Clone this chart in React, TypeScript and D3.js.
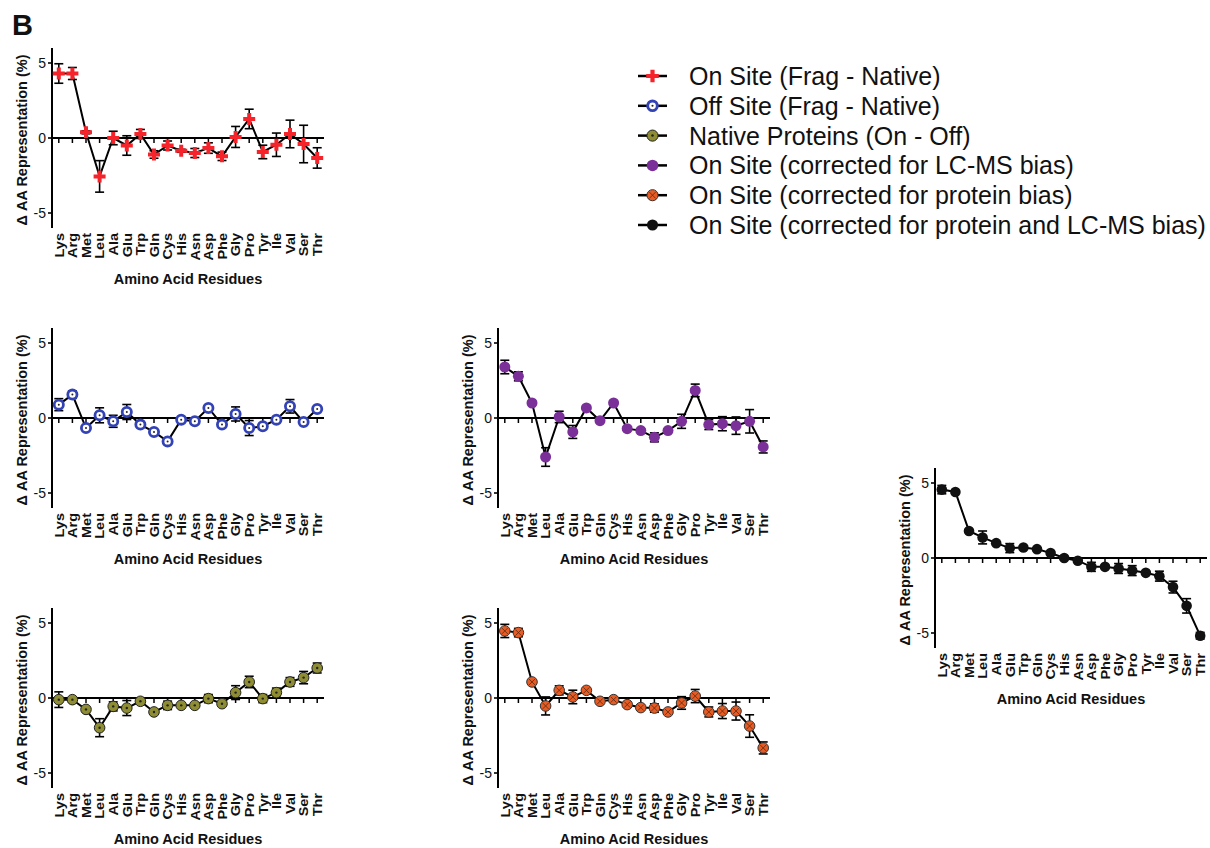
import React from "react";
import * as d3 from "d3";

const categories = ["Lys","Arg","Met","Leu","Ala","Glu","Trp","Gln","Cys","His","Asn","Asp","Phe","Gly","Pro","Tyr","Ile","Val","Ser","Thr"];

const yTicks = [5, 0, -5];

// On Site (Frag - Native)
const onFragValues = [4.3, 4.3, 0.38, -2.56, 0.0, -0.5, 0.27, -1.1, -0.5, -0.85, -1.0, -0.67, -1.22, 0.07, 1.27, -0.93, -0.45, 0.27, -0.4, -1.33];
const onFragErrors = [0.65, 0.4, 0.1, 1.05, 0.45, 0.65, 0.3, 0.25, 0.3, 0.1, 0.3, 0.35, 0.28, 0.7, 0.65, 0.45, 0.78, 0.92, 1.25, 0.68];

// Off Site (Frag - Native)
const offFragValues = [0.89, 1.56, -0.67, 0.18, -0.22, 0.4, -0.44, -0.93, -1.56, -0.11, -0.22, 0.67, -0.44, 0.27, -0.67, -0.55, -0.11, 0.78, -0.27, 0.6];
const offFragErrors = [0.4, 0.25, 0.15, 0.5, 0.4, 0.5, 0.1, 0.1, 0.1, 0.1, 0.1, 0.2, 0.1, 0.47, 0.5, 0.1, 0.1, 0.45, 0.1, 0.15];

// Native Proteins (On - Off)
const nativeValues = [-0.11, -0.11, -0.76, -1.98, -0.56, -0.67, -0.22, -0.93, -0.49, -0.49, -0.49, -0.04, -0.38, 0.36, 1.07, -0.04, 0.36, 1.07, 1.36, 2.0];
const nativeErrors = [0.52, 0.1, 0.1, 0.6, 0.3, 0.5, 0.1, 0.1, 0.28, 0.1, 0.1, 0.27, 0.1, 0.46, 0.38, 0.27, 0.3, 0.29, 0.41, 0.33];

// On Site (corrected for LC-MS bias)
const lcmsValues = [3.4, 2.78, 1.0, -2.6, 0.07, -0.93, 0.67, -0.18, 1.0, -0.71, -0.84, -1.29, -0.84, -0.22, 1.84, -0.44, -0.38, -0.51, -0.22, -1.93];
const lcmsErrors = [0.45, 0.3, 0.1, 0.62, 0.38, 0.43, 0.1, 0.1, 0.1, 0.1, 0.1, 0.3, 0.1, 0.47, 0.42, 0.33, 0.47, 0.58, 0.78, 0.4];

// On Site (corrected for protein bias)
const proteinValues = [4.47, 4.36, 1.07, -0.53, 0.51, 0.07, 0.51, -0.22, -0.11, -0.44, -0.64, -0.67, -0.93, -0.33, 0.13, -0.93, -0.87, -0.87, -1.87, -3.33];
const proteinErrors = [0.44, 0.28, 0.1, 0.6, 0.3, 0.45, 0.1, 0.1, 0.1, 0.1, 0.1, 0.28, 0.1, 0.42, 0.44, 0.33, 0.5, 0.6, 0.75, 0.4];

// On Site (corrected for protein and LC-MS bias)
const bothValues = [4.56, 4.4, 1.8, 1.37, 0.99, 0.66, 0.7, 0.59, 0.33, 0.0, -0.18, -0.59, -0.59, -0.7, -0.84, -0.99, -1.21, -1.94, -3.19, -5.18];
const bothErrors = [0.28, 0.1, 0.1, 0.43, 0.1, 0.3, 0.1, 0.1, 0.1, 0.1, 0.1, 0.3, 0.1, 0.33, 0.33, 0.1, 0.33, 0.39, 0.48, 0.22];

const legendLabels = [
  "On Site (Frag - Native)",
  "Off Site (Frag - Native)",
  "Native Proteins (On - Off)",
  "On Site (corrected for LC-MS bias)",
  "On Site (corrected for protein bias)",
  "On Site (corrected for protein and LC-MS bias)",
];

const FONT = "'Liberation Sans', Arial, Helvetica, sans-serif";

type MarkerKind = "cross" | "ring" | "olive" | "purple" | "orange" | "black";

const COLORS = {
  red: "#f5232a",
  blue: "#3343b5",
  olive: "#8e8d33",
  purple: "#7a2f99",
  orange: "#e65c24",
  black: "#111",
};

function Marker({ kind, x, y, s = 1 }: { kind: MarkerKind; x: number; y: number; s?: number }) {
  if (kind === "cross") {
    const p = d3.symbol().type(d3.symbolCross).size(80 * s * s)();
    return <path d={p || ""} transform={`translate(${x},${y})`} fill={COLORS.red} />;
  }
  if (kind === "ring") {
    return (
      <g transform={`translate(${x},${y})`}>
        <circle r={4.6 * s} fill="#fff" stroke={COLORS.blue} strokeWidth={2.8 * s} />
        <circle r={1 * s} fill="#222" />
      </g>
    );
  }
  if (kind === "olive") {
    return (
      <g transform={`translate(${x},${y})`}>
        <circle r={5.3 * s} fill={COLORS.olive} stroke="#222" strokeWidth={1} />
        <circle r={1.2 * s} fill="#222" />
      </g>
    );
  }
  if (kind === "purple") {
    return <circle cx={x} cy={y} r={5.5 * s} fill={COLORS.purple} />;
  }
  if (kind === "orange") {
    const a = 3 * s;
    return (
      <g transform={`translate(${x},${y})`}>
        <circle r={5.3 * s} fill={COLORS.orange} stroke="#333" strokeWidth={1} />
        <path d={`M${-a},${-a}L${a},${a}M${-a},${a}L${a},${-a}`} stroke="#5a2a10" strokeWidth={0.8} />
      </g>
    );
  }
  return <circle cx={x} cy={y} r={5.3 * s} fill={COLORS.black} />;
}

type PanelDef = {
  values: number[];
  errors: number[];
  kind: MarkerKind;
  ax: number; // axis x
  zy: number; // zero y
};

const W = 272;
const HALF = 90;

function Panel({ values, errors, kind, ax, zy }: PanelDef) {
  const x = d3.scaleBand<string>().domain(categories).range([ax, ax + W]).padding(0);
  const cx = (c: string) => (x(c) as number) + x.bandwidth() / 2;
  const y = d3.scaleLinear().domain([-6, 6]).range([zy + HALF, zy - HALF]);
  const line = d3
    .line<number>()
    .x((_, i) => cx(categories[i]))
    .y((v) => y(v));
  return (
    <g>
      {/* y axis */}
      <line x1={ax} x2={ax} y1={y(6)} y2={y(-6)} stroke="#000" strokeWidth={2} />
      {yTicks.map((t) => (
        <g key={t}>
          <line x1={ax - 4} x2={ax} y1={y(t)} y2={y(t)} stroke="#000" strokeWidth={1.6} />
          <text x={ax - 6} y={y(t)} dy="0.36em" textAnchor="end" fontSize={14} fontFamily={FONT} fill="#111">
            {t}
          </text>
        </g>
      ))}
      {/* x axis at zero */}
      <line x1={ax} x2={ax + W} y1={y(0)} y2={y(0)} stroke="#000" strokeWidth={2} />
      {categories.map((c) => (
        <line key={c} x1={cx(c)} x2={cx(c)} y1={y(0)} y2={y(0) + 5} stroke="#000" strokeWidth={1.5} />
      ))}
      {categories.map((c) => (
        <text
          key={"l" + c}
          transform={`translate(${cx(c)},${zy + HALF + 5}) rotate(-90) scale(1,0.92)`}
          dy="0.36em"
          textAnchor="end"
          fontSize={14.5}
          fontWeight="bold"
          fontFamily={FONT}
          fill="#111"
        >
          {c}
        </text>
      ))}
      <text
        x={ax + W / 2}
        y={zy + 146}
        textAnchor="middle"
        fontSize={14.5}
        fontWeight="bold"
        fontFamily={FONT}
        fill="#111"
      >
        Amino Acid Residues
      </text>
      <text
        transform={`translate(${ax - 25},${zy + 2}) rotate(-90)`}
        textAnchor="middle"
        fontSize={14.5}
        fontWeight="bold"
        fontFamily={FONT}
        fill="#111"
      >
        Δ AA Representation (%)
      </text>
      {/* line */}
      <path d={line(values) || ""} fill="none" stroke="#000" strokeWidth={2} />
      {/* error bars */}
      {values.map((v, i) => {
        const px = cx(categories[i]);
        const e = errors[i];
        return (
          <g key={"e" + i} stroke="#000" strokeWidth={1.6}>
            <line x1={px} x2={px} y1={y(v + e)} y2={y(v - e)} />
            <line x1={px - 4.5} x2={px + 4.5} y1={y(v + e)} y2={y(v + e)} />
            <line x1={px - 4.5} x2={px + 4.5} y1={y(v - e)} y2={y(v - e)} />
          </g>
        );
      })}
      {values.map((v, i) => (
        <Marker key={"m" + i} kind={kind} x={cx(categories[i])} y={y(v)} />
      ))}
    </g>
  );
}

const panels: PanelDef[] = [
  { values: onFragValues, errors: onFragErrors, kind: "cross", ax: 52, zy: 138 },
  { values: offFragValues, errors: offFragErrors, kind: "ring", ax: 52, zy: 418 },
  { values: lcmsValues, errors: lcmsErrors, kind: "purple", ax: 498, zy: 418 },
  { values: nativeValues, errors: nativeErrors, kind: "olive", ax: 52, zy: 698 },
  { values: proteinValues, errors: proteinErrors, kind: "orange", ax: 498, zy: 698 },
  { values: bothValues, errors: bothErrors, kind: "black", ax: 935, zy: 558 },
];

const legendKinds: MarkerKind[] = ["cross", "ring", "olive", "purple", "orange", "black"];

export default function App() {
  return (
    <svg
      width={1210}
      height={848}
      style={{ position: "absolute", left: 0, top: 0, background: "#fff" }}
    >
      <rect width={1210} height={848} fill="#fff" />
      <text x={12} y={35} fontSize={29} fontWeight="bold" fontFamily={FONT} fill="#111">
        B
      </text>
      {panels.map((p, i) => (
        <Panel key={i} {...p} />
      ))}
      <g>
        {legendLabels.map((l, i) => {
          const ly = 76 + i * 29.8;
          return (
            <g key={l}>
              <line x1={638} x2={667} y1={ly} y2={ly} stroke="#000" strokeWidth={2.5} />
              <Marker kind={legendKinds[i]} x={652.5} y={ly} s={1.05} />
              <text x={689} y={ly} dy="0.36em" fontSize={25} fontFamily={FONT} fill="#111">
                {l}
              </text>
            </g>
          );
        })}
      </g>
    </svg>
  );
}
